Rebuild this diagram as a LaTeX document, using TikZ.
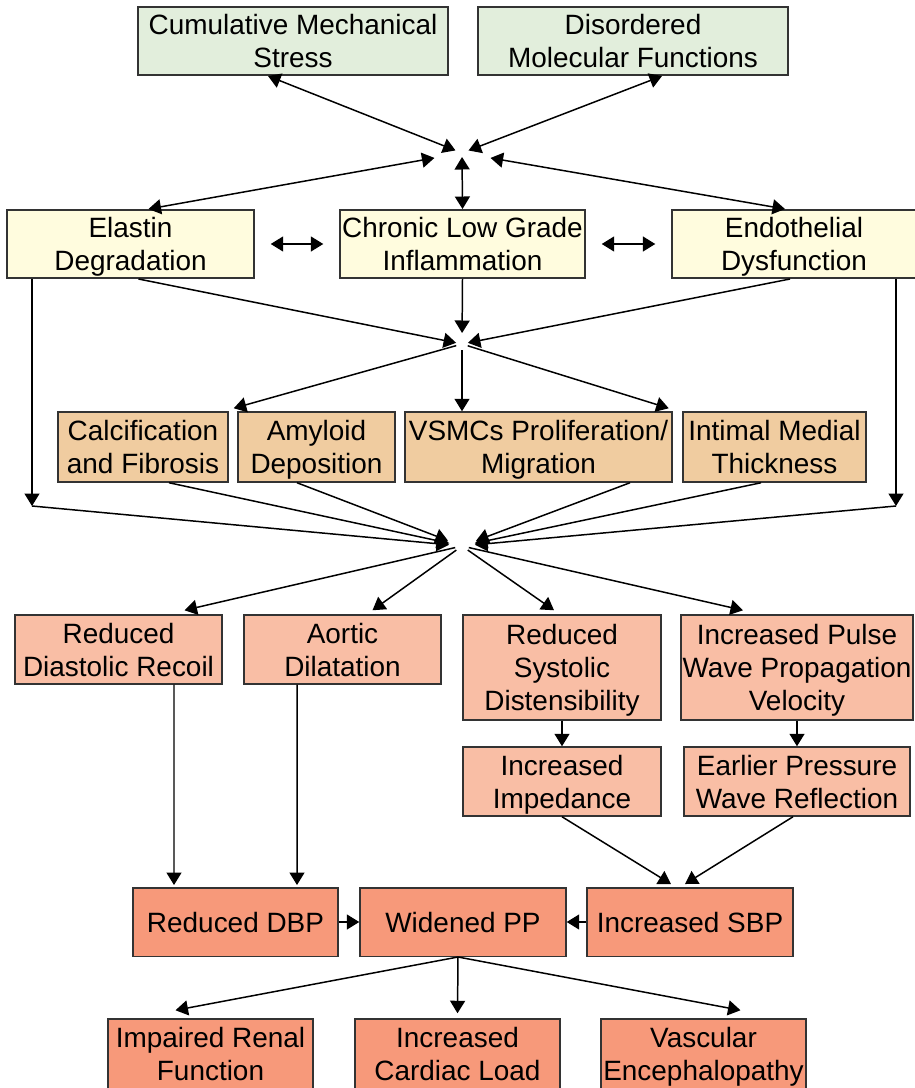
\documentclass[tikz,border=0pt]{standalone}
\usepackage{fontspec}
\setmainfont{Liberation Sans}
\usetikzlibrary{arrows.meta, positioning, calc}

% 各层颜色
\definecolor{stressgreen}{RGB}{226,238,220}
\definecolor{causeyellow}{RGB}{255,252,222}
\definecolor{tissuetan}{RGB}{240,204,160}
\definecolor{effectsalmon}{RGB}{249,190,165}
\definecolor{outcomered}{RGB}{247,153,122}

\begin{document}
\begin{tikzpicture}[
        x=0.02cm, y=-0.02cm,
        % 定义通用节点样式
        box/.style={
            rectangle,
            draw=black!80,       % 边框颜色
            fill=#1,             % 填充背景色
            line width=0.85pt,   % 边框粗细
            inner sep=1pt,
            minimum height=1.37cm,
            text depth=0pt,      % 末行下伸部分不影响居中
            align=center,
            font=\fontsize{15.9}{18.9}\selectfont
        },
        % 定义箭头样式
        arrow/.style={
            -{Triangle[length=0.25cm, width=0.3cm]},
            line width=0.85pt
        },
        darrow/.style={
            {Triangle[length=0.25cm, width=0.3cm]}-{Triangle[length=0.25cm, width=0.3cm]},
            line width=0.85pt
        }
    ]
    \useasboundingbox (0,0) rectangle (914,1088);

    % ================= 定义节点 =================
    % 1. 起因 (绿色)
    \node[box=stressgreen, minimum width=6.2cm] (cum) at (293,41) {Cumulative Mechanical\\Stress};
    \node[box=stressgreen, minimum width=6.2cm] (dis) at (633,41) {Disordered\\Molecular Functions};

    % 2. 血管壁变化 (黄色)
    \node[box=causeyellow, minimum width=4.94cm] (ela) at (130.5,244) {Elastin\\Degradation};
    \node[box=causeyellow, minimum width=4.9cm] (chr) at (462.5,244) {Chronic Low Grade\\Inflammation};
    \node[box=causeyellow, minimum width=4.88cm] (endo) at (794,244) {Endothelial\\Dysfunction};

    % 3. 结构改变 (棕色)
    \node[box=tissuetan, minimum width=3.4cm, minimum height=1.4cm] (calcif) at (143,447) {Calcification\\and Fibrosis};
    \node[box=tissuetan, minimum width=3.14cm, minimum height=1.4cm] (amy) at (316.5,447) {Amyloid\\Deposition};
    \node[box=tissuetan, minimum width=5.34cm, minimum height=1.4cm] (vsmc) at (538.5,447) {VSMCs Proliferation/\\Migration};
    \node[box=tissuetan, minimum width=3.66cm, minimum height=1.4cm] (imt) at (774.5,447) {Intimal Medial\\Thickness};

    % 4. 功能改变 (浅橙色)
    \node[box=effectsalmon, minimum width=4.14cm, minimum height=1.38cm] (rdr) at (118.5,649.5) {Reduced\\Diastolic Recoil};
    \node[box=effectsalmon, minimum width=3.94cm, minimum height=1.38cm] (ad) at (342.5,649.5) {Aortic\\Dilatation};
    \node[box=effectsalmon, minimum width=3.96cm, minimum height=2.1cm] (rsd) at (562,667.5) {Reduced\\Systolic\\Distensibility};
    \node[box=effectsalmon, minimum width=4.52cm, minimum height=2.1cm] (ipw) at (797,667.5) {Increased Pulse\\Wave Propagation\\Velocity};
    \node[box=effectsalmon, minimum width=3.96cm, minimum height=1.38cm] (imp) at (562,781.5) {Increased\\Impedance};
    \node[box=effectsalmon, minimum width=4.52cm, minimum height=1.38cm] (epw) at (797,781.5) {Earlier Pressure\\Wave Reflection};

    % 5. 血压与结局 (深橙色)
    \node[box=outcomered, minimum width=4.1cm] (dbp) at (235.5,922) {Reduced DBP};
    \node[box=outcomered, minimum width=4.12cm] (pp) at (463,922) {Widened PP};
    \node[box=outcomered, minimum width=4.12cm] (sbp) at (690,922) {Increased SBP};
    \node[box=outcomered, minimum width=4.1cm, minimum height=1.4cm] (irf) at (210.5,1054) {Impaired Renal\\Function};
    \node[box=outcomered, minimum width=4.1cm, minimum height=1.4cm] (icl) at (457.5,1054) {Increased\\Cardiac Load};
    \node[box=outcomered, minimum width=4.1cm, minimum height=1.4cm] (ve) at (703.5,1054) {Vascular\\Encephalopathy};

    % 汇聚点
    \coordinate (hubA) at (462,153);
    \coordinate (hubB) at (462,344);
    \coordinate (hubC) at (462,546);
    \coordinate (lft) at (32,506);
    \coordinate (rgt) at (896,506);

    % ================= 绘制箭头 =================
    % 第一层 <-> 汇聚点
    \draw[darrow, shorten >=0.14cm] ($(cum.south)+(-25,0)$) -- (hubA);
    \draw[darrow, shorten >=0.14cm] ($(dis.south)+(29,0)$) -- (hubA);
    \draw[darrow, shorten >=0.56cm] ($(ela.north)+(18,0)$) -- (hubA);
    \draw[darrow, shorten >=0.08cm] (chr.north) -- (hubA);
    \draw[darrow, shorten >=0.58cm] ($(endo.north)+(-9,0)$) -- (hubA);
    \draw[darrow, shorten <=0.32cm, shorten >=0.32cm] (ela) -- (chr);
    \draw[darrow, shorten <=0.32cm, shorten >=0.32cm] (chr) -- (endo);

    % 第二层 -> 结构改变
    \draw[arrow, shorten >=0.12cm] ($(ela.south)+(8,0)$) -- (hubB);
    \draw[arrow, shorten >=0.22cm] (chr.south) -- (hubB);
    \draw[arrow, shorten >=0.12cm] ($(endo.south)+(-4,0)$) -- (hubB);
    \draw[arrow, shorten <=0.12cm] (hubB) -- ($(calcif.north east)+(5,-3)$);
    \draw[arrow, shorten <=0.12cm] (hubB) -- (hubB |- vsmc.north);
    \draw[arrow, shorten <=0.12cm] (hubB) -- ($(vsmc.north east)+(-4,-3)$);

    % 结构改变 -> 功能改变
    \draw[arrow] (ela.south -| lft) -- (lft);
    \draw[arrow] (endo.south -| rgt) -- (rgt);
    \draw[arrow, shorten >=0.26cm] (lft) -- (hubC);
    \draw[arrow, shorten >=0.26cm] (rgt) -- (hubC);
    \draw[arrow, shorten >=0.26cm] ($(calcif.south)+(26,0)$) -- (hubC);
    \draw[arrow, shorten >=0.3cm] ($(amy.south)+(-19.5,0)$) -- (hubC);
    \draw[arrow, shorten >=0.3cm] ($(vsmc.south)+(91.5,0)$) -- (hubC);
    \draw[arrow, shorten >=0.26cm] ($(imt.south)+(-13.5,0)$) -- (hubC);
    \draw[arrow, shorten <=0.14cm] (hubC) -- ($(rdr.north)+(66,-4)$);
    \draw[arrow, shorten <=0.14cm] (hubC) -- ($(ad.north)+(30,-4)$);
    \draw[arrow, shorten <=0.14cm] (hubC) -- ($(rsd.north)+(-8,-4)$);
    \draw[arrow, shorten <=0.14cm] (hubC) -- ($(ipw.north)+(-54,-4)$);

    % 功能改变 -> 血压
    \draw[arrow] (rsd) -- (imp);
    \draw[arrow] (ipw) -- (epw);
    \draw[arrow] ($(rdr.south)+(55.5,0)$) -- ($(dbp.north)+(-61.5,-2)$);
    \draw[arrow] ($(ad.south)+(-45.5,0)$) -- ($(dbp.north)+(61.5,-2)$);
    \draw[arrow] (imp.south) -- ($(sbp.north)+(-19,-3)$);
    \draw[arrow] ($(epw.south)+(-4,0)$) -- ($(sbp.north)+(-5,-3)$);
    \draw[arrow] (dbp) -- (pp);
    \draw[arrow] (sbp) -- (pp);

    % 血压 -> 结局
    \draw[arrow] ($(pp.south)+(-5,0)$) -- ($(irf.north)+(-35,-8)$);
    \draw[arrow] ($(pp.south)+(-5,0)$) -- ($(icl.north)+(0,-5)$);
    \draw[arrow] ($(pp.south)+(-5,0)$) -- ($(ve.north)+(37,-8)$);

\end{tikzpicture}
\end{document}
